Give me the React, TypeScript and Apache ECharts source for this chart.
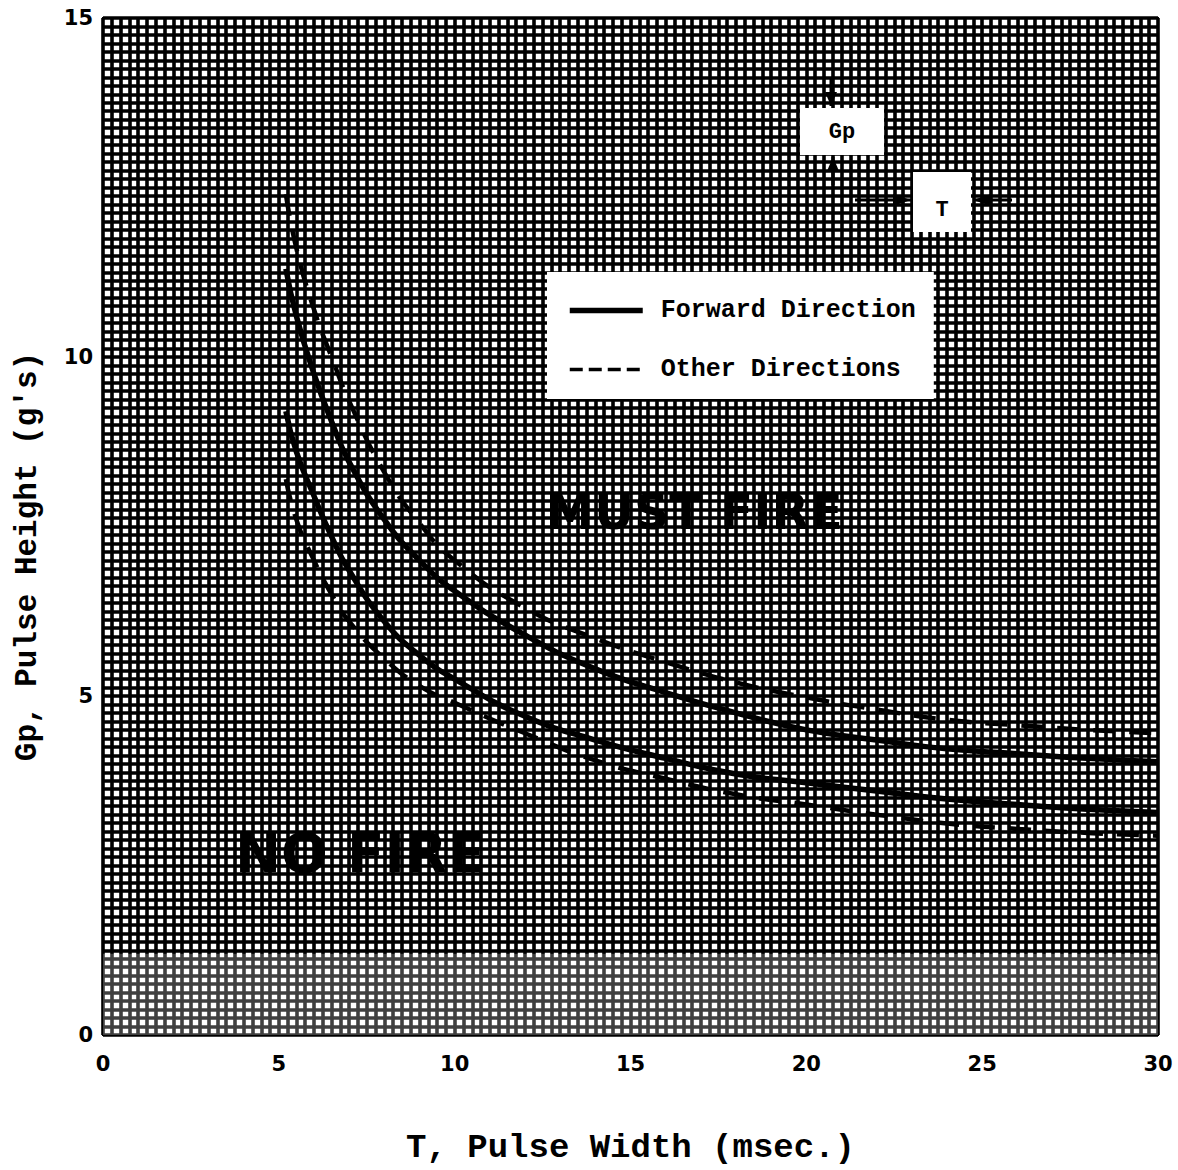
import React, { useEffect, useRef } from "react";
import * as echarts from "echarts";

// Pulse width T (msec.)
const T_VALUES = [5.2, 5.5, 6, 6.5, 7, 8, 9, 10, 12, 14, 16, 18, 20, 22, 24, 26, 28, 30];
// Gp pulse height (g's)
const FWD_UPPER = [11.3, 10.6, 9.75, 9.05, 8.45, 7.6, 7.0, 6.55, 5.9, 5.4, 5.05, 4.75, 4.5, 4.35, 4.22, 4.15, 4.08, 4.03];
const FWD_LOWER = [9.2, 8.6, 7.95, 7.35, 6.85, 6.1, 5.6, 5.25, 4.7, 4.35, 4.08, 3.85, 3.72, 3.6, 3.48, 3.4, 3.33, 3.28];
const OTH_UPPER = [12.4, 11.6, 10.7, 10.0, 9.35, 8.3, 7.55, 7.0, 6.3, 5.85, 5.5, 5.2, 4.98, 4.8, 4.65, 4.57, 4.5, 4.45];
const OTH_LOWER = [8.2, 7.6, 7.0, 6.5, 6.1, 5.55, 5.15, 4.9, 4.45, 4.05, 3.78, 3.55, 3.4, 3.25, 3.12, 3.04, 2.98, 2.94];

const X_TITLE = "T, Pulse Width (msec.)";
const Y_TITLE = "Gp, Pulse Height (g's)";
const FWD_NAME = "Forward Direction";
const OTH_NAME = "Other Directions";

const MONO = "'Liberation Mono', 'DejaVu Sans Mono', monospace";
const SANS = "'DejaVu Sans', sans-serif";

const zip = (xs: number[], ys: number[]) => xs.map((x, i) => [x, ys[i]]);

export default function App() {
  const ref = useRef<HTMLDivElement>(null);
  useEffect(() => {
    if (!ref.current) return;
    const chart = echarts.init(ref.current, null, { renderer: "svg" });
    const gridLine = { color: "#000", width: 3.6 };
    const solid = { color: "#000", width: 5.5, type: "solid" as const };
    const dashed = { color: "#000", width: 4.5, type: [22, 14] as any };
    chart.setOption({
      animation: false,
      backgroundColor: "#fff",
      grid: { left: 103, right: 20, top: 18, bottom: 130, show: true, borderColor: "#000", borderWidth: 2, backgroundColor: "transparent" },
      xAxis: {
        type: "value", min: 0, max: 30, interval: 5,
        name: X_TITLE, nameLocation: "middle", nameGap: 96,
        nameTextStyle: { fontFamily: MONO, fontWeight: "bold", fontSize: 34, color: "#000" },
        axisLine: { show: true, lineStyle: { color: "#000", width: 2 } },
        axisTick: { show: false },
        axisLabel: { margin: 18, fontFamily: SANS, fontWeight: "bold", fontSize: 21, color: "#000" },
        splitLine: { show: true, lineStyle: gridLine },
        minorTick: { show: false, splitNumber: 20 },
        minorSplitLine: { show: true, lineStyle: gridLine },
      },
      yAxis: {
        type: "value", min: 0, max: 15, interval: 5,
        name: Y_TITLE, nameLocation: "middle", nameGap: 60, nameRotate: 90,
        nameTextStyle: { fontFamily: MONO, fontWeight: "bold", fontSize: 31, color: "#000", padding: [0, 60, 0, 0] },
        axisLine: { show: true, lineStyle: { color: "#000", width: 2 } },
        axisTick: { show: false },
        axisLabel: { margin: 10, fontFamily: SANS, fontWeight: "bold", fontSize: 21, color: "#000" },
        splitLine: { show: true, lineStyle: gridLine },
        minorTick: { show: false, splitNumber: 40 },
        minorSplitLine: { show: true, lineStyle: gridLine },
      },
      legend: {
        data: [
          { name: FWD_NAME, lineStyle: { width: 5.5, type: "solid", color: "#000" } },
          { name: OTH_NAME, lineStyle: { width: 3.5, type: [13, 6], color: "#000" } },
        ],
        orient: "vertical", left: 547, top: 272,
        backgroundColor: "#fff",
        padding: [26, 18, 17, 20],
        itemWidth: 73, itemHeight: 24, itemGap: 34,
        itemStyle: { opacity: 0 },
        textStyle: { fontFamily: MONO, fontWeight: "bold", fontSize: 25, color: "#000", padding: [0, 0, 0, 13] },
      },
      series: [
        {
          name: FWD_NAME, type: "line", smooth: true, symbol: "none", z: 5,
          lineStyle: solid, itemStyle: { color: "#000" }, data: zip(T_VALUES, FWD_UPPER),
          markArea: {
            silent: true,
            itemStyle: { color: "rgba(255,255,255,0.25)" },
            data: [[{ xAxis: 0, yAxis: 0 }, { xAxis: 30, yAxis: 1.2 }]],
          },
        },
        { name: FWD_NAME, type: "line", smooth: true, symbol: "none", z: 5, lineStyle: solid, itemStyle: { color: "#000" }, data: zip(T_VALUES, FWD_LOWER) },
        { name: OTH_NAME, type: "line", smooth: true, symbol: "none", z: 5, lineStyle: dashed, itemStyle: { color: "#000" }, data: zip(T_VALUES, OTH_UPPER) },
        { name: OTH_NAME, type: "line", smooth: true, symbol: "none", z: 5, lineStyle: dashed, itemStyle: { color: "#000" }, data: zip(T_VALUES, OTH_LOWER) },
      ],
      graphic: [
        { type: "rect", shape: { x: 800, y: 108, width: 84, height: 47 }, style: { fill: "#fff" }, z: 10 },
        { type: "text", x: 842, y: 132, style: { text: "Gp", font: `bold 22px ${MONO}`, fill: "#000", textAlign: "center", textVerticalAlign: "middle" }, z: 11 },
        { type: "rect", shape: { x: 913, y: 172, width: 58, height: 60 }, style: { fill: "#fff" }, z: 10 },
        { type: "text", x: 942, y: 210, style: { text: "T", font: `bold 22px ${MONO}`, fill: "#000", textAlign: "center", textVerticalAlign: "middle" }, z: 11 },
        { type: "line", shape: { x1: 831, y1: 78, x2: 831, y2: 106 }, style: { stroke: "#000", lineWidth: 3 }, z: 10 },
        { type: "polygon", shape: { points: [[825, 92], [837, 92], [831, 106]] }, style: { fill: "#000" }, z: 10 },
        { type: "line", shape: { x1: 833, y1: 157, x2: 833, y2: 185 }, style: { stroke: "#000", lineWidth: 3 }, z: 10 },
        { type: "polygon", shape: { points: [[827, 171], [839, 171], [833, 157]] }, style: { fill: "#000" }, z: 10 },
        { type: "line", shape: { x1: 855, y1: 200, x2: 911, y2: 200 }, style: { stroke: "#000", lineWidth: 3 }, z: 10 },
        { type: "polygon", shape: { points: [[893, 194], [893, 206], [911, 200]] }, style: { fill: "#000" }, z: 10 },
        { type: "line", shape: { x1: 973, y1: 200, x2: 1012, y2: 200 }, style: { stroke: "#000", lineWidth: 3 }, z: 10 },
        { type: "polygon", shape: { points: [[991, 194], [991, 206], [973, 200]] }, style: { fill: "#000" }, z: 10 },
        { type: "text", x: 694, y: 512, style: { text: "MUST FIRE", font: `bold 49px ${SANS}`, fill: "#000", textAlign: "center", textVerticalAlign: "middle" }, z: 12 },
        { type: "text", x: 360, y: 853, style: { text: "NO FIRE", font: `bold 55px ${SANS}`, fill: "#000", textAlign: "center", textVerticalAlign: "middle" }, z: 12 },
      ],
    });
    return () => chart.dispose();
  }, []);
  return <div ref={ref} style={{ position: "absolute", left: 0, top: 0, width: 1178, height: 1170 }} />;
}
